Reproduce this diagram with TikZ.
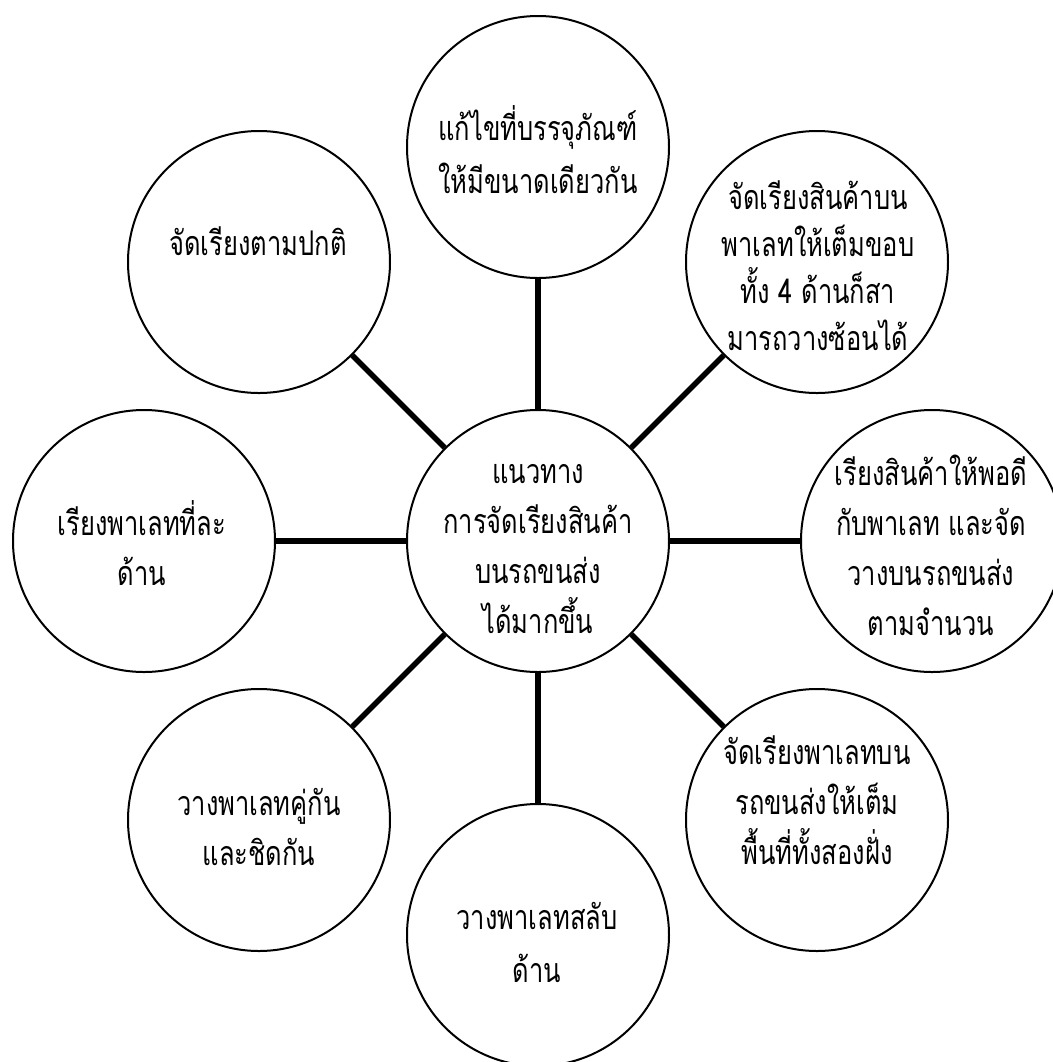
\documentclass[tikz,border=0pt]{standalone}
\usepackage{fontspec}
\newfontfamily\thaifont[Script=Thai,FakeStretch=0.75]{Loma}
% one line of a label: fixed height and depth, so a block centres on its baselines
\newcommand\tline[1]{\smash{#1}\rule[-6pt]{0pt}{12pt}}

\begin{document}
\begin{tikzpicture}[x=0.5pt,y=-0.5pt,
  bubble/.style={circle,draw,line width=1pt,minimum size=131pt,inner sep=0pt},
  spoke/.style={line width=2.8pt},
  caption/.style={align=center,inner sep=0pt,
    font=\thaifont\fontsize{17}{25}\selectfont},
  tightcaption/.style={align=center,inner sep=0pt,
    font=\thaifont\fontsize{17}{23.5}\selectfont},
  widecaption/.style={align=center,inner sep=0pt,
    font=\thaifont\fontsize{17}{26.5}\selectfont},
]
\useasboundingbox (0,0) rectangle (1053,1062);
\fill[white] (0,0) rectangle (1053,1062);

% hub and the eight surrounding circles
\node[bubble] (hub) at (538,541) {};
\node[bubble] (n)  at (538,147) {};
\node[bubble] (ne) at (817,262) {};
\node[bubble] (e)  at (932,541) {};
\node[bubble] (se) at (817,820) {};
\node[bubble] (s)  at (538,935) {};
\node[bubble] (sw) at (259,820) {};
\node[bubble] (w)  at (144,541) {};
\node[bubble] (nw) at (259,262) {};

% spokes from the hub
\foreach \k in {n,ne,e,se,s,sw,w,nw}
  \draw[spoke] (hub) -- (\k);

% labels
\node[caption] (hubtext) at (538,558)
  {\tline{แนวทาง}\\\tline{การจัดเรียงสินค้า}\\\tline{บนรถขนส่ง}\\\tline{ได้มากขึ้น}};
\node[widecaption] (ntext) at (538,166.5)
  {\tline{แก้ไขที่บรรจุภัณฑ์}\\\tline{ให้มีขนาดเดียวกัน}};
\begin{scope}
  \clip (680,100) rectangle (980,355);
  \node[tightcaption] (netext) at (818,280)
    {\tline{จัดเรียงสินค้าบน}\\\tline{พาเลทให้เต็มขอบ}\\\tline{ทั้ง 4 ด้านก็สา}\\\tline{มารถวางซ้อนได้}};
\end{scope}
\begin{scope}
  \clip (790,400) rectangle (1053,636);
  \node[caption] (etext) at (931,560)
    {\tline{เรียงสินค้าให้พอดี}\\\tline{กับพาเลท และจัด}\\\tline{วางบนรถขนส่ง}\\\tline{ตามจำนวน}};
\end{scope}
\node[caption] (setext) at (817,814)
  {\tline{จัดเรียงพาเลทบน}\\\tline{รถขนส่งให้เต็ม}\\\tline{พื้นที่ทั้งสองฝั่ง}};
\node[widecaption] (stext) at (537,956)
  {\tline{วางพาเลทสลับ}\\\tline{ด้าน}};
\node[caption] (swtext) at (259,840)
  {\tline{วางพาเลทคู่กัน}\\\tline{และชิดกัน}};
\node[caption] (wtext) at (142,560)
  {\tline{เรียงพาเลทที่ละ}\\\tline{ด้าน}};
\node[caption] (nwtext) at (258,255)
  {\tline{จัดเรียงตามปกติ}};
\end{tikzpicture}
\end{document}
